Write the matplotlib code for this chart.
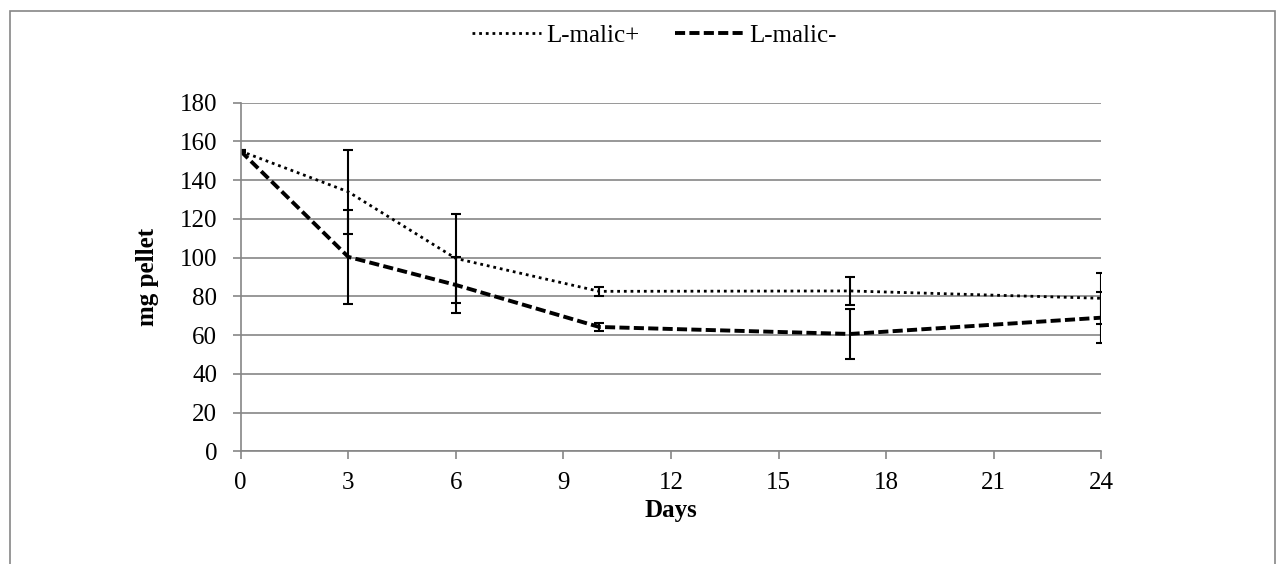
import matplotlib.pyplot as plt
from matplotlib.patches import Rectangle

# ---------------------------------------------------------------------
days = [0, 3, 6, 10, 17, 24]

malic_plus = [155, 134, 99.6, 82.6, 82.8, 79.0]
malic_plus_err = [0.5, 21.7, 22.9, 2.2, 7.3, 13.2]

malic_minus = [155, 100.4, 85.9, 64.2, 60.6, 69.0]
malic_minus_err = [0.5, 24.2, 14.3, 2.0, 13.1, 13.3]

x_ticks = [0, 3, 6, 9, 12, 15, 18, 21, 24]
y_ticks = [0, 20, 40, 60, 80, 100, 120, 140, 160, 180]
# ---------------------------------------------------------------------
plt.rcParams['font.family'] = ['Liberation Serif', 'DejaVu Serif']
fs = 18
grey = '#868686'

fig = plt.figure(figsize=(12.85, 5.64), dpi=100)
ax = fig.add_axes([0.1873, 0.1998, 0.857 - 0.1873, 0.8179 - 0.1998])

# outer chart border
fig.patches.append(Rectangle((10 / 1285, -0.05), 1265 / 1285, 1 - 10.5 / 564 + 0.05,
                             transform=fig.transFigure, fill=False,
                             edgecolor=grey, lw=1.2))

ax.errorbar(days, malic_plus, yerr=malic_plus_err, color='black',
            linestyle=(0, (1, 1.4)), lw=2.0, capsize=3.5, elinewidth=1.5,
            capthick=1.5, label='L-malic+')
ax.errorbar(days, malic_minus, yerr=malic_minus_err, color='black',
            linestyle=(0, (2.6, 1.1)), lw=2.8, capsize=3.5, elinewidth=1.5,
            capthick=1.5, label='L-malic-')

ax.set_xlim(0, 24)
ax.set_ylim(0, 180)
ax.set_xticks(x_ticks)
ax.set_yticks(y_ticks)
ax.tick_params(labelsize=fs, color=grey, width=1.2, length=5.8, direction='out')
ax.tick_params(axis='y', pad=11)
ax.tick_params(axis='x', pad=9)
ax.yaxis.grid(True, color=grey, lw=1.2)
ax.set_axisbelow(True)
for s in ['top', 'right']:
    ax.spines[s].set_visible(False)
for s in ['left', 'bottom']:
    ax.spines[s].set_color(grey)
    ax.spines[s].set_linewidth(1.2)

ax.set_xlabel('Days', fontsize=fs, fontweight='bold', labelpad=4)
ax.set_ylabel('mg pellet', fontsize=fs, fontweight='bold', labelpad=15)

handles, labels = ax.get_legend_handles_labels()
handles = [h[0] for h in handles]
fig.legend(handles, labels, loc='center', bbox_to_anchor=(0.509, 0.937),
           ncol=2, frameon=False, fontsize=fs, handlelength=2.76,
           handletextpad=0.2, columnspacing=1.44)

fig.savefig('out.png', dpi=100)
